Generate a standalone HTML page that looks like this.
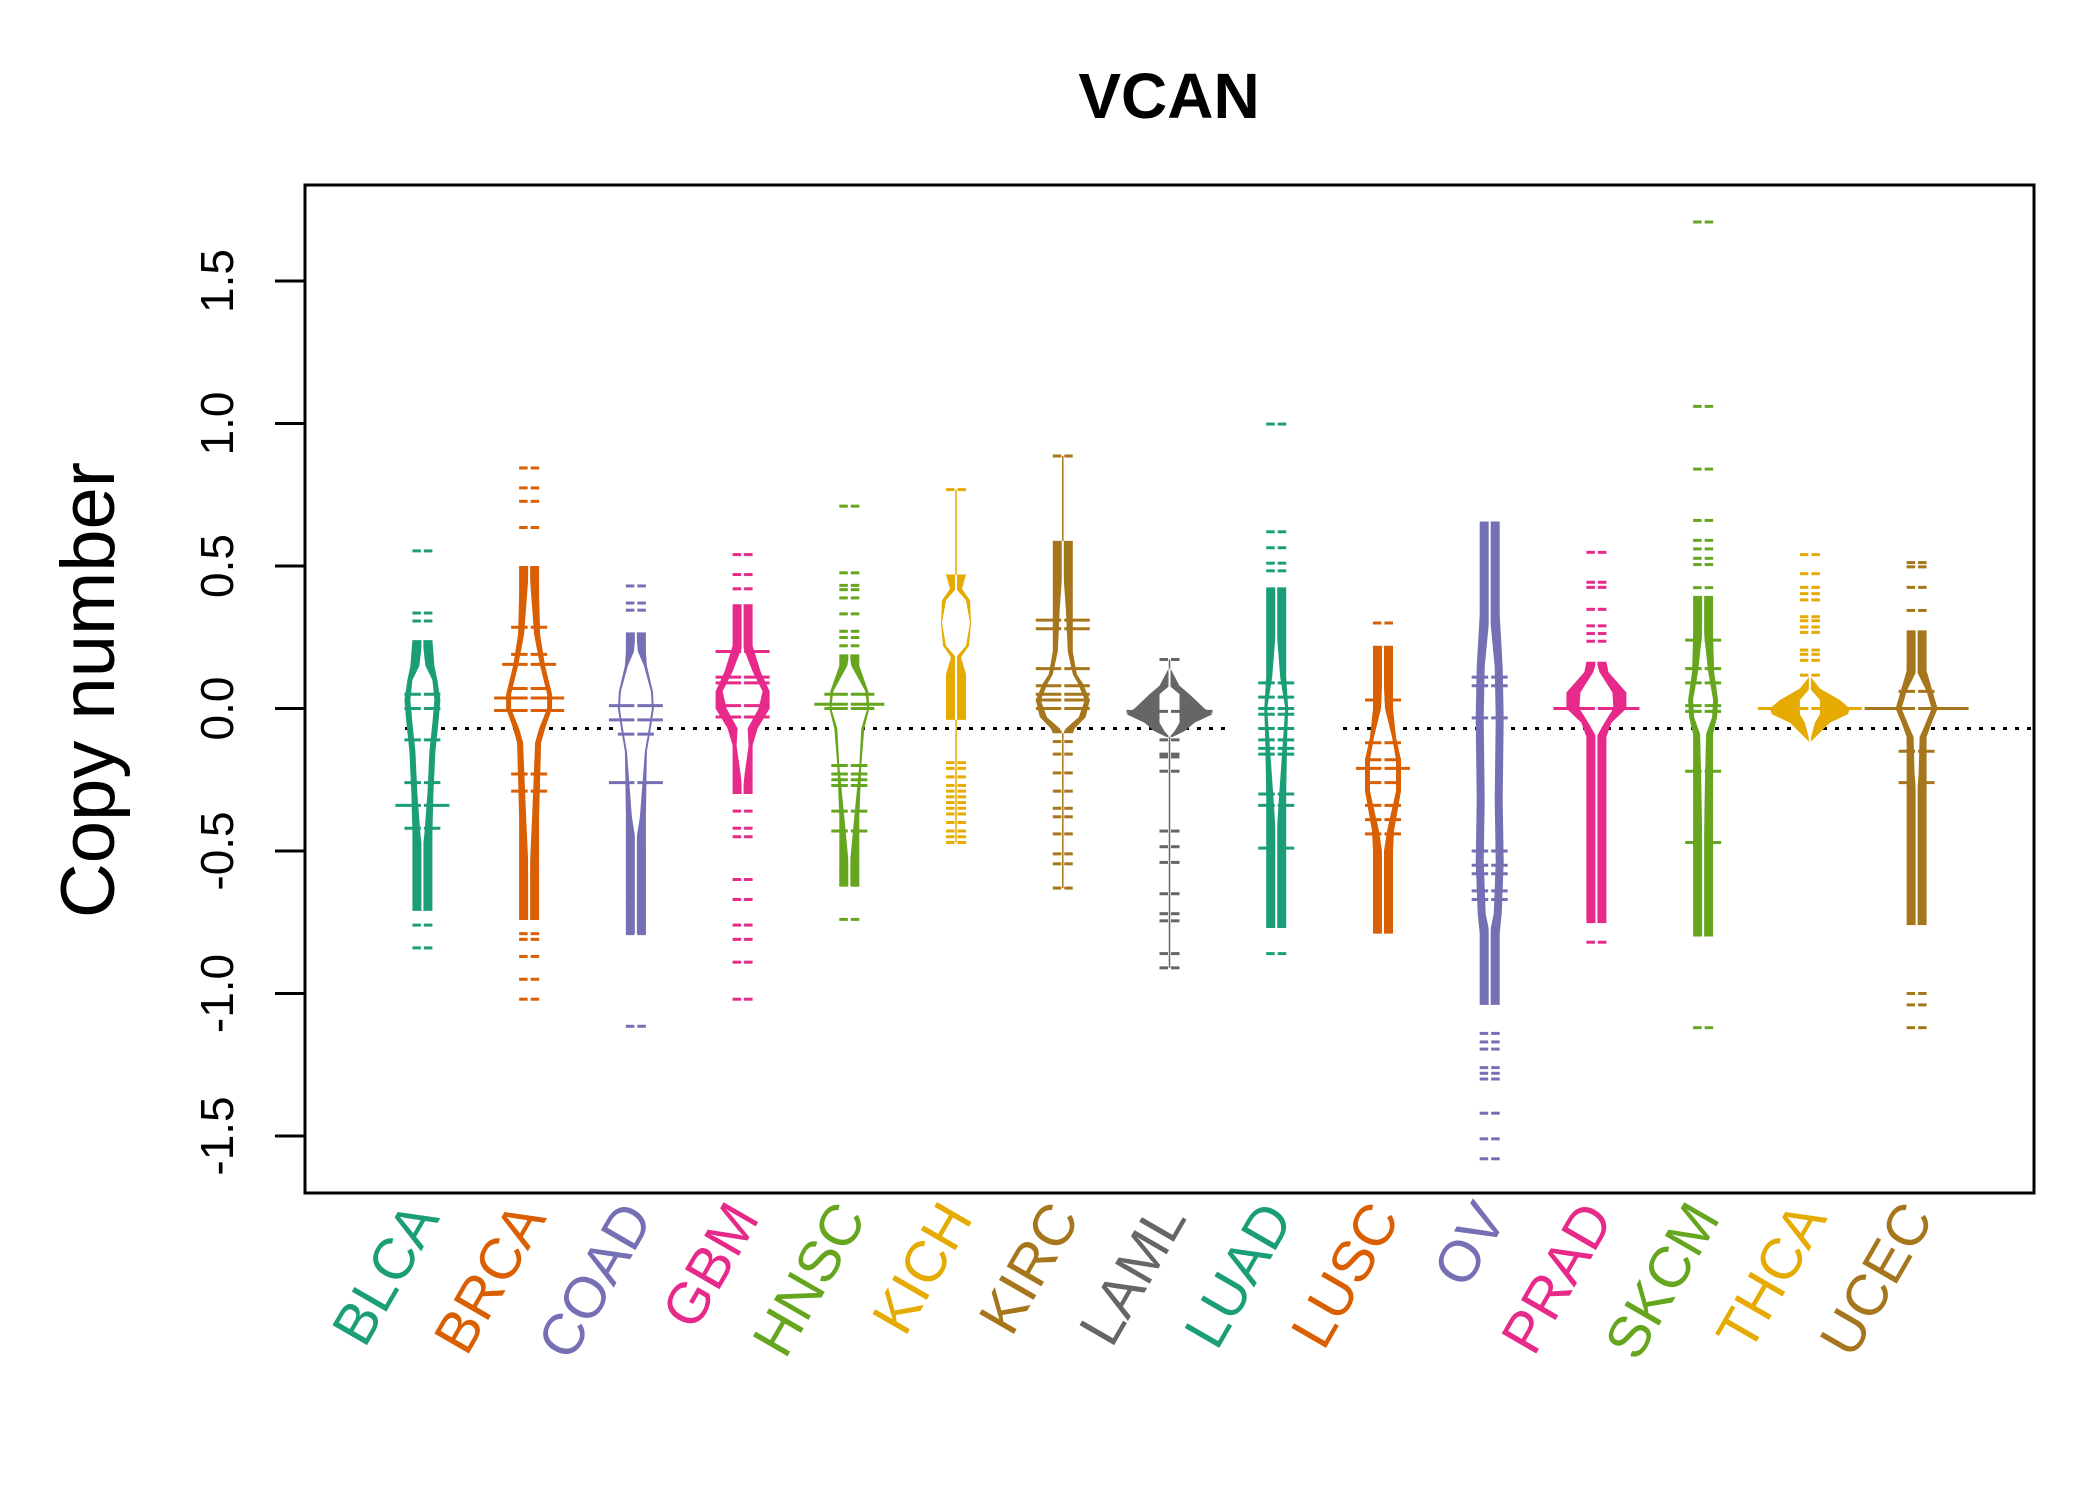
<!DOCTYPE html>
<html><head><meta charset="utf-8"><style>
html,body{margin:0;padding:0;background:#fff}
svg{display:block}
text{font-family:"Liberation Sans",Arial,sans-serif}
</style></head><body>
<svg id="chart" width="2100" height="1500" viewBox="0 0 2100 1500" xmlns="http://www.w3.org/2000/svg">
<rect x="0" y="0" width="2100" height="1500" fill="#fff"/>
<text x="1169" y="118" text-anchor="middle" font-size="64" font-weight="bold">VCAN</text>
<text transform="translate(114,690) rotate(-90)" text-anchor="middle" font-size="76">Copy number</text>
<g id="marks"></g>
<g id="axis"></g>
<g id="xlabels"></g>
<rect x="305" y="185" width="1729" height="1008" fill="none" stroke="#000" stroke-width="3"/>
</svg>
<script>
const categories = ["BLCA","BRCA","COAD","GBM","HNSC","KICH","KIRC","LAML","LUAD","LUSC","OV","PRAD","SKCM","THCA","UCEC"];
const colors = ["#1B9E77","#D95F02","#7570B3","#E7298A","#66A61E","#E6AB02","#A6761D","#666666","#1B9E77","#D95F02","#7570B3","#E7298A","#66A61E","#E6AB02","#A6761D"];
const showAxisLine = [false,false,false,false,false,true,true,true,false,false,false,false,false,false,false];
const yTicks = [-1.5,-1.0,-0.5,0.0,0.5,1.0,1.5];
const yTickLabels = ["-1.5","-1.0","-0.5","0.0","0.5","1.0","1.5"];
const refLine = -0.07;
// density profiles: [value, outer half-width, inner half-width] (units of 10px)
const profBLCA=[[0.24,1,0],[0.15,1.2,0.3],[0.1,1.5,1.0],[0.03,1.8,1.2],[-0.05,1.6,1.0],[-0.15,1.3,0.7],[-0.3,1.1,0.5],[-0.44,1,0.2],[-0.5,1,0],[-0.71,1,0]];
const profBRCA=[[0.5,1,0],[0.4,1,0.2],[0.26,1.1,0.5],[0.15,1.6,1.1],[0.05,2.3,1.8],[0.0,2.3,1.8],[-0.07,1.6,1.0],[-0.12,1.2,0.6],[-0.38,1,0.3],[-0.53,1,0.1],[-0.742,1,0]];
const profCOAD=[[0.267,1,0],[0.2,1,0.2],[0.15,1.1,0.8],[0.06,1.7,1.5],[0.0,1.8,1.6],[-0.09,1.4,1.2],[-0.15,1.1,0.9],[-0.38,1,0.4],[-0.47,1,0],[-0.79,1,0]];
const profGBM=[[0.366,1,0],[0.22,1,0],[0.13,1.8,1.0],[0.06,2.7,2.0],[0.0,2.7,1.6],[-0.07,1.5,0.5],[-0.13,1,0.6],[-0.23,1,0.2],[-0.30,1,0]];
const profHNSC=[[0.19,1,0],[0.15,1,0.2],[0.06,1.9,1.6],[0.0,2.0,1.8],[-0.07,1.5,1.2],[-0.2,1.2,1.0],[-0.38,1,0.5],[-0.53,1,0.1],[-0.62,1,0]];
const profKICH=[[0.47,1,0],[0.42,0.6,0],[0.38,1.4,1.0],[0.3,1.5,1.4],[0.22,1.3,1.0],[0.18,0.5,0],[0.12,1,0],[-0.04,1,0]];
const profKIRC=[[0.588,1,0],[0.5,1,0],[0.35,1,0.3],[0.2,1,0.5],[0.12,1.4,1.0],[0.088,2.0,1.5],[0.03,2.7,2.2],[-0.03,2.3,1.6],[-0.07,1.2,0.3],[-0.087,1,0]];
const profLAML=[[0.14,0.1,0],[0.08,1.0,0],[0.05,2.0,1.0],[0.0,3.5,1.0],[-0.02,4.3,1.0],[-0.05,2.5,1.0],[-0.08,1.5,0.5],[-0.10,0.3,0]];
const profLUAD=[[0.425,1,0],[0.29,1,0],[0.11,1,0.4],[0.0,1.2,0.9],[-0.1,1.1,0.7],[-0.3,1,0.3],[-0.465,1,0],[-0.77,1,0]];
const profLUSC=[[0.22,1,0],[0.146,1,0],[0.0,1,0.2],[-0.1,1.3,0.9],[-0.18,1.8,1.3],[-0.29,1.8,1.3],[-0.43,1.1,0.4],[-0.5,1,0.1],[-0.57,1,0],[-0.79,1,0]];
const profOV=[[0.656,1,0],[0.33,1,0],[0.146,1.3,0.5],[-0.033,1.4,0.6],[-0.32,1.3,0.5],[-0.54,1.4,0.6],[-0.72,1.2,0.4],[-0.79,1,0],[-1.04,1,0]];
const profPRAD=[[0.164,1,0],[0.128,1.2,0.3],[0.056,3.0,1.6],[0.0,3.0,1.7],[-0.05,1.5,0.8],[-0.1,1,0],[-0.753,1,0]];
const profSKCM=[[0.395,1,0],[0.26,1,0.1],[0.13,1.1,0.5],[0.03,1.5,1.0],[-0.03,1.4,0.9],[-0.09,1.0,0.3],[-0.23,1,0.2],[-0.61,1,0],[-0.80,1,0]];
const profTHCA=[[0.11,0.1,0],[0.07,1.0,0],[0.03,3.0,1.0],[0.0,4.0,1.0],[-0.02,3.8,1.0],[-0.05,2.0,0.5],[-0.116,0.1,0]];
const profUCEC=[[0.274,1,0],[0.132,1,0],[0.06,1.6,1.0],[0.0,2.1,1.5],[-0.06,1.4,0.8],[-0.1,1,0.3],[-0.23,1,0.2],[-0.32,1,0],[-0.76,1,0]];
const profiles=[profBLCA,profBRCA,profCOAD,profGBM,profHNSC,profKICH,profKIRC,profLAML,profLUAD,profLUSC,profOV,profPRAD,profSKCM,profTHCA,profUCEC];
// individual sparse observations
const outBLCA=[0.553,0.335,0.307,-0.76,-0.84];
const outBRCA=[0.844,0.774,0.727,0.635,-0.79,-0.81,-0.87,-0.95,-1.02];
const outCOAD=[0.43,0.37,0.345,-0.50,-0.53,-0.56,-0.59,-0.62,-0.65,-0.68,-0.71,-0.74,-0.77,-0.79,-1.115];
const outGBM=[0.54,0.47,0.42,-0.36,-0.42,-0.45,-0.6,-0.67,-0.76,-0.81,-0.89,-1.02];
const outHNSC=[0.71,0.476,0.432,0.417,0.388,0.332,0.271,0.249,0.22,-0.57,-0.60,-0.62,-0.74];
const outKICH=[0.768,-0.19,-0.21,-0.24,-0.27,-0.29,-0.31,-0.33,-0.35,-0.37,-0.4,-0.43,-0.45,-0.47];
const outKIRC=[0.886,-0.116,-0.16,-0.226,-0.29,-0.35,-0.38,-0.44,-0.51,-0.545,-0.63];
const outLAML=[0.172,-0.11,-0.16,-0.17,-0.22,-0.43,-0.485,-0.54,-0.65,-0.72,-0.745,-0.86,-0.91];
const outLUAD=[0.998,0.62,0.564,0.51,0.483,-0.86];
const outLUSC=[0.3];
const outOV=[-1.14,-1.17,-1.195,-1.26,-1.28,-1.30,-1.42,-1.51,-1.58];
const outPRAD=[0.548,0.443,0.425,0.348,0.29,0.263,0.236,-0.82];
const outSKCM=[1.707,1.06,0.84,0.66,0.59,0.56,0.527,0.505,0.424,-1.12];
const outTHCA=[0.54,0.473,0.425,0.403,0.381,0.322,0.308,0.286,0.267,0.205,0.19,0.169,0.117];
const outUCEC=[0.512,0.497,0.425,0.344,-1.0,-1.04,-1.12];
const outliers=[outBLCA,outBRCA,outCOAD,outGBM,outHNSC,outKICH,outKIRC,outLAML,outLUAD,outLUSC,outOV,outPRAD,outSKCM,outTHCA,outUCEC];
// long marker lines: [value, half-width (units of 10px)]
const longBLCA=[[-0.34,2.7],[0.05,1.8],[0.0,1.8],[-0.11,1.8],[-0.26,1.8],[-0.42,1.8]];
const longBRCA=[[0.285,1.8],[0.19,1.8],[0.155,2.7],[0.07,2.0],[0.037,3.5],[-0.007,3.5],[-0.23,1.8],[-0.29,1.8]];
const longCOAD=[[-0.26,2.7],[0.01,2.7],[-0.04,2.7],[-0.09,1.8]];
const longGBM=[[0.2,2.7],[0.11,2.7],[0.09,2.7],[0.01,2.7],[-0.03,2.7]];
const longHNSC=[[0.015,3.5],[0.0,2.5],[0.05,2.5],[-0.2,1.8],[-0.23,1.8],[-0.25,1.8],[-0.27,1.8],[-0.36,1.8],[-0.43,1.8]];
const longKICH=[[0.0,1.0]];
const longKIRC=[[0.31,2.7],[0.28,2.7],[0.14,2.7],[0.08,2.7],[0.05,2.7],[0.03,2.7],[0.0,2.7]];
const longLAML=[[-0.01,4.3]];
const longLUAD=[[0.09,1.8],[0.04,1.8],[0.0,1.8],[-0.02,1.8],[-0.07,1.8],[-0.11,1.8],[-0.14,1.8],[-0.16,1.8],[-0.30,1.8],[-0.34,1.8],[-0.49,1.8]];
const longLUSC=[[0.03,1.8],[-0.12,1.8],[-0.18,1.8],[-0.21,2.7],[-0.26,1.8],[-0.34,1.8],[-0.39,1.8],[-0.44,1.8]];
const longOV=[[0.11,1.8],[0.08,1.8],[-0.033,1.8],[-0.5,1.8],[-0.55,1.8],[-0.58,1.8],[-0.64,1.8],[-0.67,1.8]];
const longPRAD=[[0.0,4.3]];
const longSKCM=[[0.24,1.8],[0.14,1.8],[0.09,1.8],[0.01,1.8],[-0.01,1.8],[-0.22,1.8],[-0.47,1.8]];
const longTHCA=[[0.0,5.2]];
const longUCEC=[[0.0,5.2],[0.06,1.8],[-0.15,1.8],[-0.26,1.8]];
const longs=[longBLCA,longBRCA,longCOAD,longGBM,longHNSC,longKICH,longKIRC,longLAML,longLUAD,longLUSC,longOV,longPRAD,longSKCM,longTHCA,longUCEC];

const NS="http://www.w3.org/2000/svg";
const X0=305,X1=2034,Y0=185,Y1=1193;
const xmin=0.5-0.6, xmax=15.5+0.6;
function xs(i){return X0+(i-xmin)/(xmax-xmin)*(X1-X0);}
function ys(v){return 708.5-285*v;}
const W=10;
function mk(tag,attrs,parent){const e=document.createElementNS(NS,tag);for(const k in attrs)e.setAttribute(k,attrs[k]);parent.appendChild(e);return e;}
const marks=document.getElementById('marks');
const axis=document.getElementById('axis');
const xl=document.getElementById('xlabels');

[[405,1228],[1343,2034]].forEach(function(s){
  const l=mk('line',{x1:s[0],x2:s[1],y1:ys(refLine),y2:ys(refLine),stroke:'#000','stroke-width':3,'stroke-dasharray':'4 8'},marks);
  
  
});

categories.forEach(function(cat,k){
  const i=k+1,cx=xs(i),col=colors[k];
  const g=mk('g',{},marks);
  
  
  const prof=profiles[k];
  const all=outliers[k].concat(prof.map(p=>p[0]));
  const vmax=Math.max.apply(null,all),vmin=Math.min.apply(null,all);
  if(showAxisLine[k]){
    const cl=mk('line',{x1:cx,x2:cx,y1:ys(vmax),y2:ys(vmin),stroke:col,'stroke-width':1.5},g);
    
    
  }
  function poly(idx){
    let L=[],R=[];
    prof.forEach(function(p){const y=ys(p[0]);L.push((cx-p[idx]*W).toFixed(1)+','+y.toFixed(1));R.unshift((cx+p[idx]*W).toFixed(1)+','+y.toFixed(1));});
    return L.concat(R).join(' ');
  }
  const outer=mk('polygon',{points:poly(1),fill:col},g);
  
  
  const inner=mk('polygon',{points:poly(2),fill:'#fff'},g);
  
  
  const gap=mk('line',{x1:cx,x2:cx,y1:ys(prof[0][0]),y2:ys(prof[prof.length-1][0]),stroke:'#fff','stroke-width':2},g);
  
  
  function dash(v,hw,name){
    const y=ys(v);
    [[-hw,-1.5],[1.5,hw]].forEach(function(s){
      const d=mk('line',{x1:cx+s[0],x2:cx+s[1],y1:y,y2:y,stroke:col,'stroke-width':3},g);
      
      
    });
  }
  outliers[k].forEach(v=>dash(v,W,'bean-line'));
  longs[k].forEach(p=>dash(p[0],p[1]*W,'bean-marker-line'));
  const t=mk('text',{transform:'translate('+(cx+18).toFixed(1)+',1218) rotate(-60)','text-anchor':'end','font-size':58,fill:col},xl);
  t.textContent=cat;
  
  
});

yTicks.forEach(function(v,j){
  const y=ys(v);
  const tl=mk('line',{x1:275,x2:305,y1:y,y2:y,stroke:'#000','stroke-width':3},axis);
  
  
  const tx=mk('text',{transform:'translate(233,'+y+') rotate(-90)','text-anchor':'middle','font-size':46},axis);
  tx.textContent=yTickLabels[j];
  
  
});
</script>
</body></html>
